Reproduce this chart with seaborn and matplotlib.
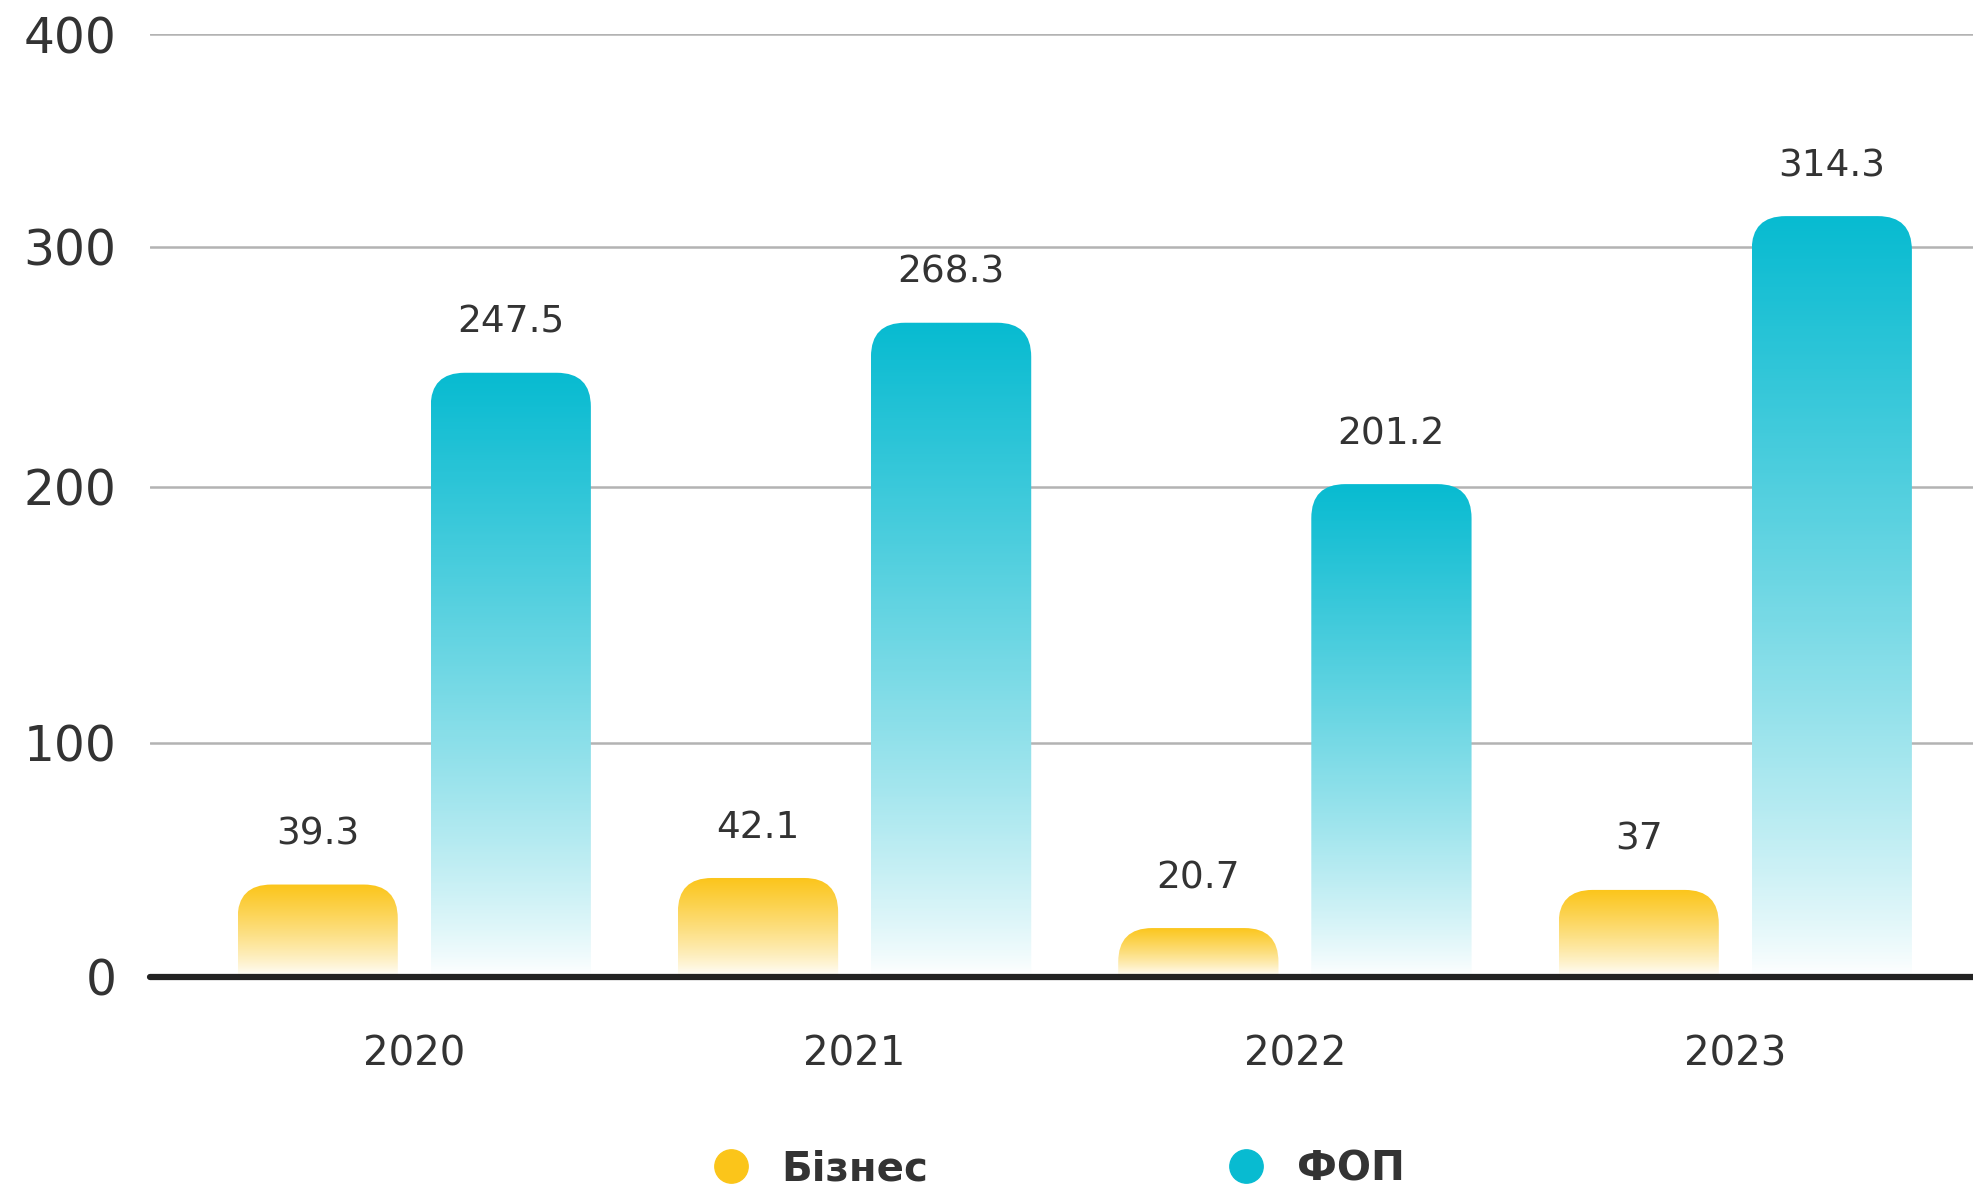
import numpy as np
import pandas as pd
import matplotlib
matplotlib.use("Agg")
import matplotlib.pyplot as plt
import seaborn as sns
from matplotlib.patches import FancyBboxPatch
from matplotlib.lines import Line2D
from matplotlib.colors import LinearSegmentedColormap

# ---------------------------------------------------------
# Data
# ---------------------------------------------------------
years = ['2020', '2021', '2022', '2023']
business = [39.3, 42.1, 20.7, 37]
fop = [247.5, 268.3, 201.2, 314.3]
series_names = ['Бізнес', 'ФОП']
series_colors = ['#FBC51A', '#08BBD1']
y_ticks = [0, 100, 200, 300, 400]
# gridline heights (px above baseline) in the source artwork - its axis is not evenly spaced
tick_heights = [0, 234, 489.5, 730, 942.5]

df = pd.DataFrame({
    'year': years * 2,
    'value': business + fop,
    'series': [series_names[0]] * len(years) + [series_names[1]] * len(years),
})
palette = dict(zip(series_names, series_colors))

# ---------------------------------------------------------
# Figure
# ---------------------------------------------------------
sns.set_style('white')
plt.rcParams['font.family'] = ['DejaVu Sans']
text_color = '#333333'

W, H = 1973, 1191
left_px, base_px = 150, 976.5
fig = plt.figure(figsize=(W / 100, H / 100), dpi=100)
ax = fig.add_axes([left_px / W, (H - base_px) / H, 1 - left_px / W, tick_heights[-1] / H])

sns.barplot(data=df, x='year', y='value', hue='series', hue_order=series_names,
            palette=palette, saturation=1, width=0.877, gap=0.17, legend=False, ax=ax)

def fwd(v):
    return np.interp(v, y_ticks, tick_heights)

def inv(p):
    return np.interp(p, tick_heights, y_ticks)

ax.set_yscale('function', functions=(fwd, inv))
ax.set_xlim(-0.6, 3.54)
ax.set_ylim(0, 400)

# --- swap flat bars for rounded, gradient-filled ones ---
ax_w_px = W - left_px
ax_h_px = tick_heights[-1]
radius = 34 / ax_w_px
to_axes = ax.transData + ax.transAxes.inverted()

bars = []
for p in ax.patches:
    x0, w, h = p.get_x(), p.get_width(), p.get_height()
    (bx0, by0), (bx1, by1) = to_axes.transform([(x0, 0), (x0 + w, h)])
    bars.append((bx0, by0, bx1, by1, p.get_facecolor(), x0 + w / 2, h))
    p.set_visible(False)

grad = np.linspace(0, 1, 256).reshape(-1, 1) ** 0.8
for bx0, by0, bx1, by1, col, xc, h in bars:
    cmap = LinearSegmentedColormap.from_list('g', ['#FFFFFF', col])
    clip = FancyBboxPatch((bx0, by0 - 0.1), bx1 - bx0, by1 - by0 + 0.1,
                          boxstyle=f'round,pad=0,rounding_size={radius}',
                          mutation_aspect=ax_w_px / ax_h_px,
                          transform=ax.transAxes, facecolor='none', edgecolor='none')
    ax.add_patch(clip)
    im = ax.imshow(grad, extent=(bx0, bx1, by0, by1), origin='lower', aspect='auto',
                   cmap=cmap, transform=ax.transAxes, zorder=2, interpolation='bilinear')
    im.set_clip_path(clip)
    ax.annotate(f'{h:g}', xy=(xc, h), xytext=(0, 36), textcoords='offset points',
                ha='center', va='center', fontsize=27, color=text_color)

ax.set_xlim(-0.6, 3.54)
ax.set_ylim(0, 400)

# --- axes styling ---
ax.set_yticks(y_ticks)
ax.set_yticklabels([str(t) for t in y_ticks])
ax.set_axisbelow(True)
ax.yaxis.grid(True, color='#B3B3B3', lw=1.8)
ax.xaxis.grid(False)
ax.axhline(0, color='#222222', lw=4.5, zorder=4, clip_on=False)
for s in ax.spines.values():
    s.set_visible(False)
ax.tick_params(axis='y', length=0, pad=24, labelsize=35, labelcolor=text_color)
ax.tick_params(axis='x', length=0, pad=42, labelsize=29, labelcolor=text_color)
ax.set_xlabel('')
ax.set_ylabel('')

handles = [Line2D([], [], marker='o', ls='', markersize=24,
                  markerfacecolor=c, markeredgecolor=c) for c in series_colors]
fig.legend(handles, series_names, ncol=2, frameon=False, loc='center',
           bbox_to_anchor=(0.537, 0.018), prop={'weight': 'bold', 'size': 29},
           labelcolor=text_color, handlelength=0.8, handletextpad=0.85,
           columnspacing=7.5, borderpad=0)

fig.savefig('out.png', dpi=100)
plt.close(fig)
